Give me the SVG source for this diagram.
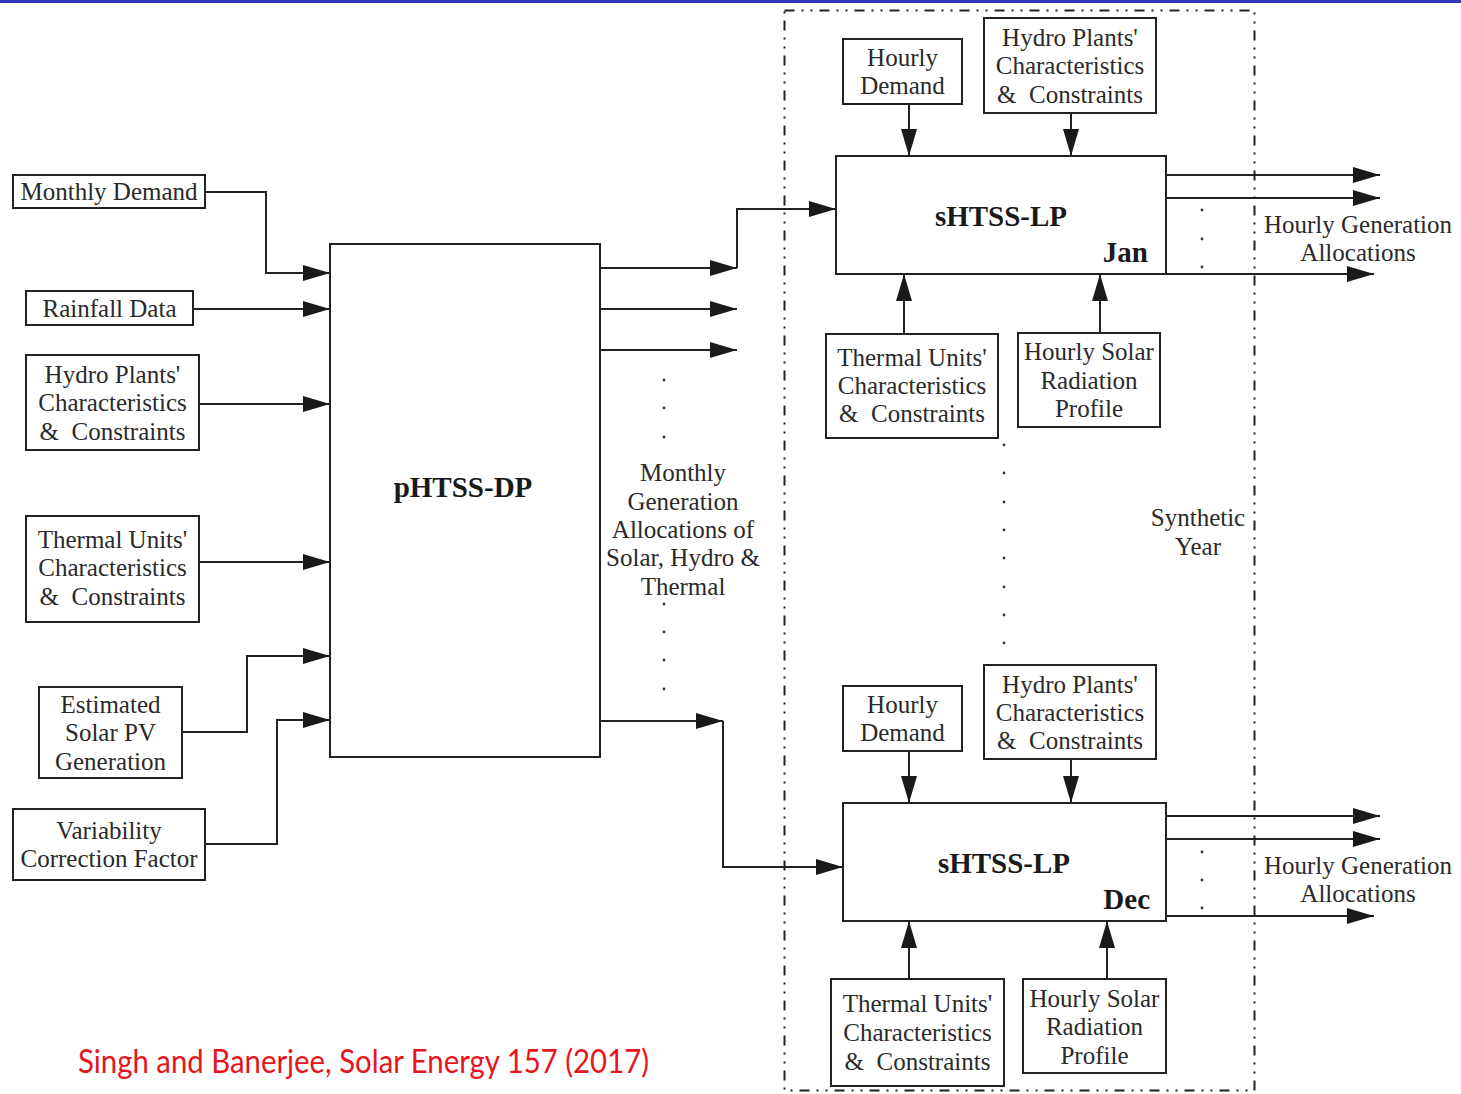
<svg xmlns="http://www.w3.org/2000/svg" width="1461" height="1094" viewBox="0 0 1461 1094">
  <style>
    .box { fill: #fff; stroke: #222; stroke-width: 2; }
    .t { font-family: "Liberation Serif", "Times New Roman", serif; font-size: 25px; fill: #2a2a2a; text-anchor: middle; }
    .b { font-family: "Liberation Serif", "Times New Roman", serif; font-size: 29px; font-weight: bold; fill: #1a1a1a; text-anchor: middle; }
    .wire { fill: none; stroke: #222; stroke-width: 2; }
    .arr { marker-end: url(#head); }
    .dot { fill: #333; }
    .frame { fill: none; stroke: #222; stroke-width: 2; stroke-dasharray: 10 7 2 7 2 7; }
  </style>
  <defs>
    <marker id="head" markerUnits="userSpaceOnUse" markerWidth="28" markerHeight="18" refX="27" refY="8" orient="auto">
      <path d="M0,0 L27,8 L0,16 Z" fill="#1a1a1a"/>
    </marker>
  </defs>

  <rect width="1461" height="1094" fill="#fff"/>
  <!-- header rule -->
  <rect x="0" y="0" width="1461" height="3" fill="#3333bb"/>

  <!-- synthetic-year frame -->
  <rect class="frame" x="784.5" y="10.5" width="470" height="1080"/>

  <!-- connectors -->
  <g id="connectors">
    <path class="wire arr" d="M205,192 H266 V273 H330"/>
    <path class="wire arr" d="M193,309 H330"/>
    <path class="wire arr" d="M199,404 H330"/>
    <path class="wire arr" d="M199,562 H330"/>
    <path class="wire arr" d="M183,732 H247 V656 H330"/>
    <path class="wire arr" d="M205,844 H277 V720 H330"/>

    <path class="wire arr" d="M600,268 H737"/>
    <path class="wire arr" d="M737,268 V209 H836"/>
    <path class="wire arr" d="M600,309 H737"/>
    <path class="wire arr" d="M600,350 H737"/>
    <path class="wire arr" d="M600,721 H723"/>
    <path class="wire arr" d="M723,721 V867 H843"/>

    <path class="wire arr" d="M909,104 V156"/>
    <path class="wire arr" d="M1071,113 V156"/>
    <path class="wire arr" d="M904,334 V274"/>
    <path class="wire arr" d="M1100,333 V274"/>
    <path class="wire arr" d="M1166,175 H1380"/>
    <path class="wire arr" d="M1166,198 H1380"/>
    <path class="wire arr" d="M1166,274 H1374"/>

    <path class="wire arr" d="M909,751 V803"/>
    <path class="wire arr" d="M1071,759 V803"/>
    <path class="wire arr" d="M909,979 V921"/>
    <path class="wire arr" d="M1107,979 V921"/>
    <path class="wire arr" d="M1166,816 H1380"/>
    <path class="wire arr" d="M1166,839 H1380"/>
    <path class="wire arr" d="M1166,916 H1374"/>

    <!-- ellipsis dots -->
    <g class="dot">
      <circle cx="664" cy="380" r="1.4"/><circle cx="664" cy="408" r="1.4"/><circle cx="664" cy="437" r="1.4"/>
      <circle cx="664" cy="604" r="1.4"/><circle cx="664" cy="632" r="1.4"/><circle cx="664" cy="660" r="1.4"/><circle cx="664" cy="689" r="1.4"/>
      <circle cx="1202" cy="210" r="1.4"/><circle cx="1202" cy="239" r="1.4"/><circle cx="1202" cy="267" r="1.4"/>
      <circle cx="1202" cy="852" r="1.4"/><circle cx="1202" cy="880" r="1.4"/><circle cx="1202" cy="908" r="1.4"/>
      <circle cx="1004" cy="445" r="1.4"/><circle cx="1004" cy="473" r="1.4"/><circle cx="1004" cy="502" r="1.4"/><circle cx="1004" cy="530" r="1.4"/>
      <circle cx="1004" cy="558" r="1.4"/><circle cx="1004" cy="587" r="1.4"/><circle cx="1004" cy="615" r="1.4"/><circle cx="1004" cy="643" r="1.4"/>
    </g>
  </g>

  <!-- inputs to the monthly planner -->
  <g id="monthly-demand">
    <rect class="box" x="13" y="175" width="192" height="33"/>
    <text class="t" x="109" y="200">Monthly Demand</text>
  </g>
  <g id="rainfall-data">
    <rect class="box" x="26" y="291" width="167" height="34"/>
    <text class="t" x="109.5" y="317">Rainfall Data</text>
  </g>
  <g id="hydro-left">
    <rect class="box" x="26" y="355" width="173" height="95"/>
    <text class="t" x="112.5" y="383">Hydro Plants'</text>
    <text class="t" x="112.5" y="411">Characteristics</text>
    <text class="t" x="112.5" y="440">&amp;&#160; Constraints</text>
  </g>
  <g id="thermal-left">
    <rect class="box" x="26" y="516" width="173" height="106"/>
    <text class="t" x="112.5" y="548">Thermal Units'</text>
    <text class="t" x="112.5" y="576">Characteristics</text>
    <text class="t" x="112.5" y="605">&amp;&#160; Constraints</text>
  </g>
  <g id="solar-pv">
    <rect class="box" x="39" y="687" width="143" height="91"/>
    <text class="t" x="110.5" y="713">Estimated</text>
    <text class="t" x="110.5" y="741">Solar PV</text>
    <text class="t" x="110.5" y="770">Generation</text>
  </g>
  <g id="variability">
    <rect class="box" x="13" y="809" width="192" height="71"/>
    <text class="t" x="109" y="839">Variability</text>
    <text class="t" x="109" y="867">Correction Factor</text>
  </g>

  <!-- monthly planner -->
  <g id="phtss-dp">
    <rect class="box" x="330" y="244" width="270" height="513"/>
    <text class="b" x="463" y="497">pHTSS-DP</text>
  </g>

  <g id="monthly-allocations">
    <text class="t" x="683" y="481">Monthly</text>
    <text class="t" x="683" y="510">Generation</text>
    <text class="t" x="683" y="538">Allocations of</text>
    <text class="t" x="683" y="566">Solar, Hydro &amp;</text>
    <text class="t" x="683" y="595">Thermal</text>
  </g>

  <!-- January hourly model -->
  <g id="jan-hourly-demand">
    <rect class="box" x="843" y="39" width="119" height="65"/>
    <text class="t" x="902.5" y="66">Hourly</text>
    <text class="t" x="902.5" y="94">Demand</text>
  </g>
  <g id="jan-hydro">
    <rect class="box" x="984" y="18" width="172" height="95"/>
    <text class="t" x="1070" y="46">Hydro Plants'</text>
    <text class="t" x="1070" y="74">Characteristics</text>
    <text class="t" x="1070" y="103">&amp;&#160; Constraints</text>
  </g>
  <g id="shtss-jan">
    <rect class="box" x="836" y="156" width="330" height="118"/>
    <text class="b" x="1001" y="226">sHTSS-LP</text>
    <text class="b" x="1148" y="262" style="text-anchor:end">Jan</text>
  </g>
  <g id="jan-thermal">
    <rect class="box" x="826" y="334" width="172" height="104"/>
    <text class="t" x="912" y="366">Thermal Units'</text>
    <text class="t" x="912" y="394">Characteristics</text>
    <text class="t" x="912" y="422">&amp;&#160; Constraints</text>
  </g>
  <g id="jan-solar">
    <rect class="box" x="1018" y="333" width="142" height="94"/>
    <text class="t" x="1089" y="360">Hourly Solar</text>
    <text class="t" x="1089" y="389">Radiation</text>
    <text class="t" x="1089" y="417">Profile</text>
  </g>
  <g id="jan-allocations">
    <text class="t" x="1358" y="233">Hourly Generation</text>
    <text class="t" x="1358" y="261">Allocations</text>
  </g>

  <g id="synthetic-year">
    <text class="t" x="1198" y="526">Synthetic</text>
    <text class="t" x="1198" y="555">Year</text>
  </g>

  <!-- December hourly model -->
  <g id="dec-hourly-demand">
    <rect class="box" x="843" y="686" width="119" height="65"/>
    <text class="t" x="902.5" y="713">Hourly</text>
    <text class="t" x="902.5" y="741">Demand</text>
  </g>
  <g id="dec-hydro">
    <rect class="box" x="984" y="665" width="172" height="94"/>
    <text class="t" x="1070" y="693">Hydro Plants'</text>
    <text class="t" x="1070" y="721">Characteristics</text>
    <text class="t" x="1070" y="749">&amp;&#160; Constraints</text>
  </g>
  <g id="shtss-dec">
    <rect class="box" x="843" y="803" width="323" height="118"/>
    <text class="b" x="1004" y="873">sHTSS-LP</text>
    <text class="b" x="1150" y="909" style="text-anchor:end">Dec</text>
  </g>
  <g id="dec-thermal">
    <rect class="box" x="831" y="979" width="173" height="107"/>
    <text class="t" x="917.5" y="1012">Thermal Units'</text>
    <text class="t" x="917.5" y="1041">Characteristics</text>
    <text class="t" x="917.5" y="1070">&amp;&#160; Constraints</text>
  </g>
  <g id="dec-solar">
    <rect class="box" x="1023" y="979" width="143" height="94"/>
    <text class="t" x="1094.5" y="1007">Hourly Solar</text>
    <text class="t" x="1094.5" y="1035">Radiation</text>
    <text class="t" x="1094.5" y="1064">Profile</text>
  </g>
  <g id="dec-allocations">
    <text class="t" x="1358" y="874">Hourly Generation</text>
    <text class="t" x="1358" y="902">Allocations</text>
  </g>

  <!-- source credit -->
  <text x="78" y="1073" font-family="Lato, 'Open Sans', sans-serif" font-size="33" fill="#e8141c" textLength="571" lengthAdjust="spacingAndGlyphs">Singh and Banerjee, Solar Energy 157 (2017)</text>
</svg>
